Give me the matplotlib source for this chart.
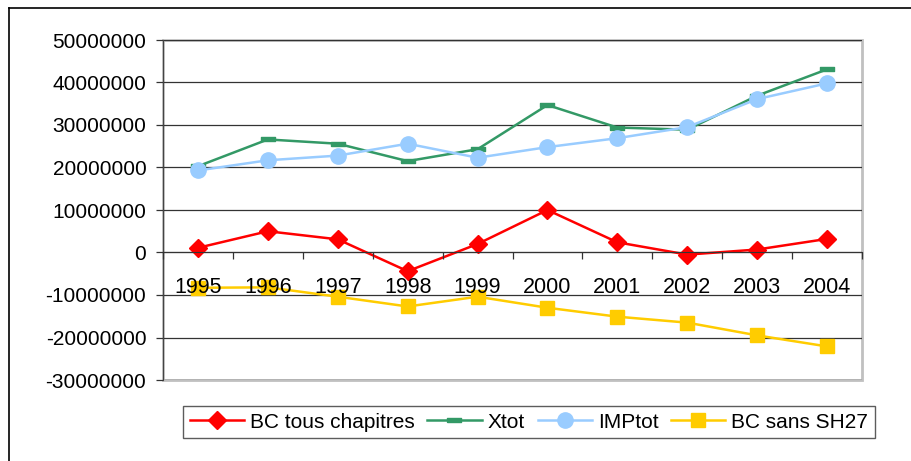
import matplotlib.pyplot as plt
from matplotlib.lines import Line2D
from matplotlib.patches import Rectangle

plt.rcParams['font.family'] = ['Liberation Sans', 'DejaVu Sans']

years = ['1995', '1996', '1997', '1998', '1999', '2000', '2001', '2002', '2003', '2004']
bc_tous = [1100000, 5000000, 3100000, -4400000, 2000000, 10000000, 2400000, -500000, 700000, 3200000]
xtot = [20300000, 26600000, 25600000, 21500000, 24300000, 34700000, 29400000, 28900000, 36900000, 43100000]
imptot = [19300000, 21700000, 22800000, 25600000, 22300000, 24800000, 26900000, 29500000, 36100000, 39800000]
bc_sans = [-8300000, -8200000, -10400000, -12700000, -10400000, -13000000, -15100000, -16500000, -19500000, -22100000]

fig = plt.figure(figsize=(9.11, 4.61), dpi=100)
ax = fig.add_axes([163 / 911, 1 - 380 / 461, (862 - 163) / 911, (380 - 40) / 461])

x = list(range(len(years)))
dash = [(-1, -0.35), (1, -0.35), (1, 0.35), (-1, 0.35), (-1, -0.35)]

ax.plot(x, bc_tous, color='#FF0000', lw=1.8, marker='D', ms=9, label='BC tous chapitres', zorder=2)
ax.plot(x, xtot, color='#339966', lw=1.8, marker=dash, ms=10, label='Xtot', zorder=2)
ax.plot(x, imptot, color='#99CCFF', lw=1.8, marker='o', ms=11, label='IMPtot', zorder=2)
ax.plot(x, bc_sans, color='#FFCC00', lw=1.8, marker='s', ms=10, label='BC sans SH27', zorder=2)

ax.set_xlim(-0.5, len(years) - 0.5)
ax.set_ylim(-30000000, 50000000)
ax.set_yticks(range(-30000000, 50000001, 10000000))
ax.set_yticklabels([str(v) for v in range(-30000000, 50000001, 10000000)])
ax.yaxis.grid(True, color='#333333', lw=0.9)
ax.set_axisbelow(True)
# year labels sit on top of the markers
ax.xaxis.set_zorder(3)

# category boundaries as ticks, labels at centres
ax.set_xticks([i - 0.5 for i in range(len(years) + 1)])
ax.set_xticklabels([])
ax.set_xticks(x, minor=True)
ax.set_xticklabels(years, minor=True)
ax.tick_params(axis='x', which='major', direction='out', length=5, width=0.9, color='#333333')
ax.tick_params(axis='x', which='minor', length=0, pad=17.5, labelsize=15.5)
ax.tick_params(axis='y', direction='out', length=5, width=0.9, color='#333333', labelsize=15, pad=7)

ax.spines['bottom'].set_position(('data', 0))
ax.spines['bottom'].set_color('#333333')
ax.spines['left'].set_color('#444444')
ax.spines['top'].set_visible(False)
ax.spines['right'].set_visible(False)
ax.add_patch(Rectangle((0, 0), 1, 1, transform=ax.transAxes, fill=False,
                       edgecolor='#C0C0C0', lw=2, clip_on=False, zorder=0.5))

# outer chart frame (only top and left visible)
fig.add_artist(Line2D([9 / 911, 1.0], [1 - 8 / 461, 1 - 8 / 461], color='black', lw=1.2))
fig.add_artist(Line2D([9 / 911, 9 / 911], [0, 1 - 8 / 461], color='black', lw=1.2))

leg = fig.legend(loc='center', bbox_to_anchor=(529 / 911, 1 - 422 / 461), ncol=4,
                 fontsize=15, frameon=True, fancybox=False, handlelength=2.6,
                 handletextpad=0.3, columnspacing=0.6, borderpad=0.3)
leg.get_frame().set_edgecolor('#333333')
leg.get_frame().set_linewidth(1)

plt.savefig('out.png', dpi=100)
